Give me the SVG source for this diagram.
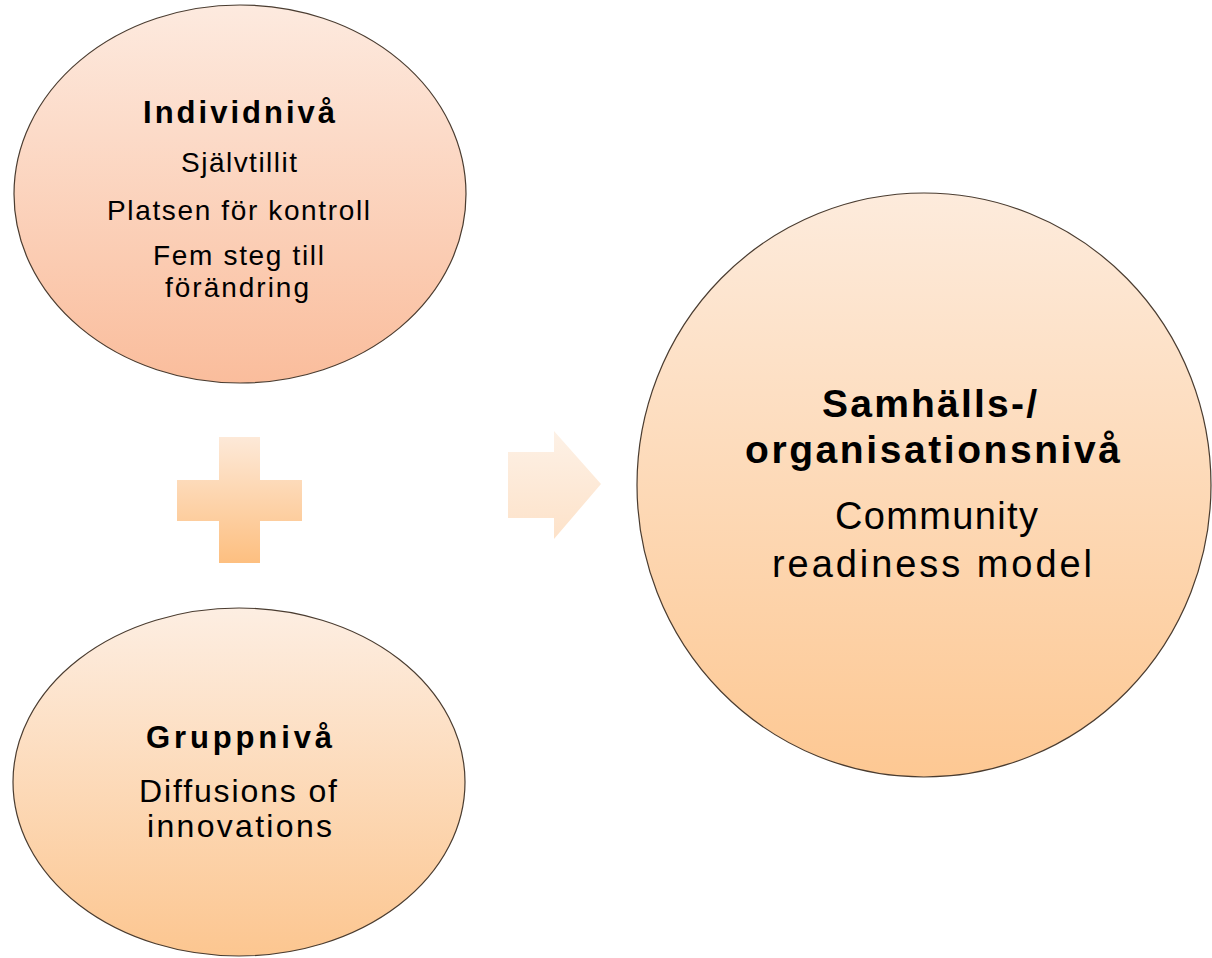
<svg xmlns="http://www.w3.org/2000/svg" width="1212" height="958" viewBox="0 0 1212 958">
  <defs>
    <linearGradient id="gTop" x1="0" y1="0" x2="0" y2="1">
      <stop offset="0" stop-color="#fdeadf"/>
      <stop offset="1" stop-color="#fabd9c"/>
    </linearGradient>
    <linearGradient id="gBot" x1="0" y1="0" x2="0" y2="1">
      <stop offset="0" stop-color="#fdeee2"/>
      <stop offset="1" stop-color="#fcc690"/>
    </linearGradient>
    <linearGradient id="gBig" x1="0" y1="0" x2="0" y2="1">
      <stop offset="0" stop-color="#fdebdc"/>
      <stop offset="1" stop-color="#fdc893"/>
    </linearGradient>
    <linearGradient id="gPlus" x1="0" y1="0" x2="0" y2="1">
      <stop offset="0" stop-color="#fde9d8"/>
      <stop offset="1" stop-color="#fdbf80"/>
    </linearGradient>
    <linearGradient id="gArrow" x1="0" y1="0" x2="0" y2="1">
      <stop offset="0" stop-color="#fdf1e6"/>
      <stop offset="1" stop-color="#fde2c9"/>
    </linearGradient>
  </defs>
  <style>
    .node { stroke: #4a3c30; stroke-width: 1.2; }
    .t { font-family: "Liberation Sans", Arial, sans-serif; fill: #000; }
    .b { font-weight: bold; }
  </style>
  <rect width="1212" height="958" fill="#ffffff"/>

  <g id="individniva">
    <ellipse class="node" cx="240" cy="194" rx="226" ry="189" fill="url(#gTop)"/>
    <text class="t b" x="143" y="123" font-size="31" textLength="192" lengthAdjust="spacing">Individnivå</text>
    <text class="t" x="181" y="172" font-size="28" textLength="116" lengthAdjust="spacing">Självtillit</text>
    <text class="t" x="107" y="220" font-size="28" textLength="263" lengthAdjust="spacing">Platsen för kontroll</text>
    <text class="t" x="153" y="265" font-size="28" textLength="171" lengthAdjust="spacing">Fem steg till</text>
    <text class="t" x="165" y="297" font-size="28" textLength="144" lengthAdjust="spacing">förändring</text>
  </g>

  <g id="gruppniva">
    <ellipse class="node" cx="239" cy="782" rx="226" ry="174" fill="url(#gBot)"/>
    <text class="t b" x="146" y="748" font-size="31" textLength="186" lengthAdjust="spacing">Gruppnivå</text>
    <text class="t" x="139" y="802" font-size="32" textLength="198" lengthAdjust="spacing">Diffusions of</text>
    <text class="t" x="147" y="837" font-size="32" textLength="185" lengthAdjust="spacing">innovations</text>
  </g>

  <g id="samhallsniva">
    <ellipse class="node" cx="924" cy="485" rx="287" ry="292" fill="url(#gBig)"/>
    <text class="t b" x="822" y="417" font-size="39" textLength="215" lengthAdjust="spacing">Samhälls-/</text>
    <text class="t b" x="745" y="463" font-size="39" textLength="375" lengthAdjust="spacing">organisationsnivå</text>
    <text class="t" x="835" y="529" font-size="38" textLength="203" lengthAdjust="spacing">Community</text>
    <text class="t" x="772" y="577" font-size="38" textLength="320" lengthAdjust="spacing">readiness model</text>
  </g>

  <g id="connectors">
    <path id="plus" d="M219,437 H260 V480 H302 V521 H260 V563 H219 V521 H177 V480 H219 Z" fill="url(#gPlus)"/>
    <path id="arrow" d="M508,452 H554 V431 L601,484 L554,539 V518 H508 Z" fill="url(#gArrow)"/>
  </g>
</svg>
